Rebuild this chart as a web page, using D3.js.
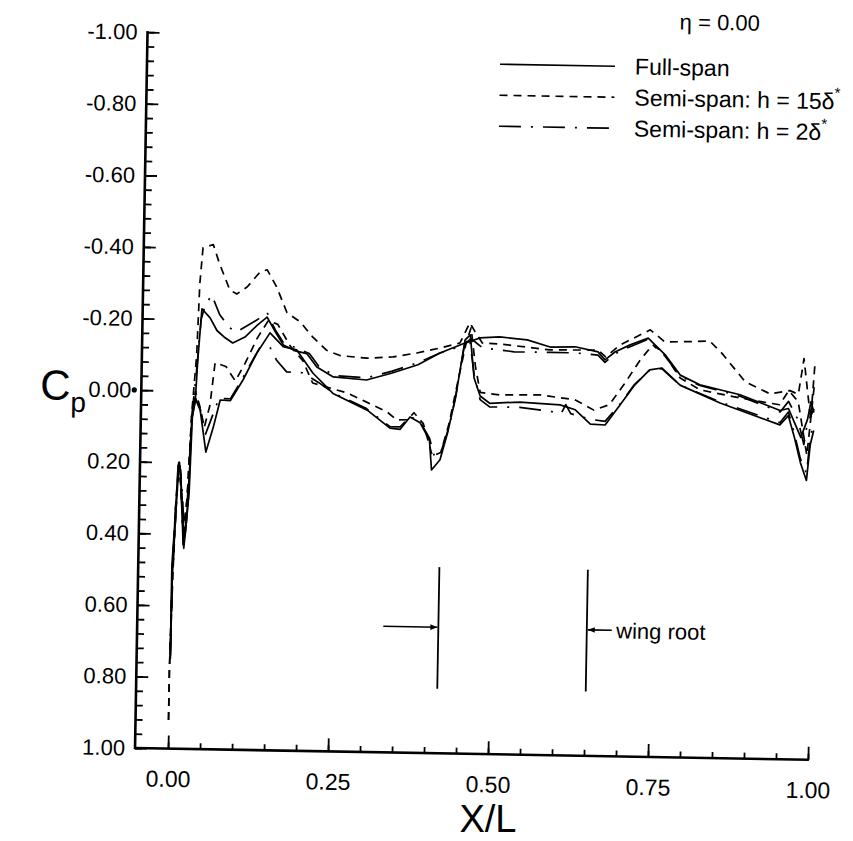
<!DOCTYPE html>
<html><head><meta charset="utf-8">
<script src="https://cdn.jsdelivr.net/npm/d3@7"></script>
<style>body{margin:0;background:#fff}svg{display:block}</style>
</head><body>
<svg id="chart" width="853" height="841"></svg>
<script>
// ---- data (X/L, Cp) ----
const xMajorTicks = [0, 0.25, 0.5, 0.75, 1.0];
const yMajorTicks = [-1.0, -0.8, -0.6, -0.4, -0.2, 0.0, 0.2, 0.4, 0.6, 0.8, 1.0];
const legendLabels = ["Full-span", "Semi-span: h = 15δ", "Semi-span: h = 2δ"];

const fullUpper = [[0.001,0.75],[0.001,0.49],[0.005,0.35],[0.008,0.21],[0.010,0.20],[0.013,0.25],[0.018,0.43],[0.022,0.36],[0.025,0.30],[0.028,0.08],[0.033,0.03],[0.036,-0.09],[0.041,-0.23],[0.054,-0.205],[0.065,-0.17],[0.078,-0.15],[0.090,-0.136],[0.109,-0.153],[0.128,-0.187],[0.143,-0.21],[0.156,-0.17],[0.169,-0.133],[0.188,-0.117],[0.206,-0.11],[0.222,-0.073],[0.248,-0.046],[0.30,-0.039],[0.34,-0.06],[0.38,-0.084],[0.414,-0.118],[0.453,-0.147],[0.476,-0.162],[0.507,-0.166],[0.55,-0.159],[0.586,-0.14],[0.625,-0.142],[0.661,-0.129],[0.672,-0.107],[0.688,-0.13],[0.711,-0.15],[0.739,-0.17],[0.766,-0.124],[0.79,-0.068],[0.821,-0.042],[0.884,-0.016],[0.947,0.026],[0.96,0.02],[0.97,0.06],[0.98,0.1],[0.99,0.05],[0.995,0.0],[1.0,0.03]];
const fullLower = [[0.001,0.75],[0.002,0.52],[0.006,0.33],[0.009,0.22],[0.011,0.21],[0.014,0.28],[0.019,0.44],[0.022,0.38],[0.026,0.28],[0.029,0.07],[0.033,0.02],[0.041,0.053],[0.051,0.17],[0.062,0.10],[0.072,0.024],[0.088,0.025],[0.107,-0.033],[0.128,-0.109],[0.148,-0.166],[0.169,-0.128],[0.19,-0.12],[0.216,-0.056],[0.248,0.0],[0.302,0.045],[0.338,0.094],[0.354,0.097],[0.369,0.062],[0.385,0.078],[0.40,0.126],[0.404,0.209],[0.417,0.18],[0.428,0.105],[0.439,0.012],[0.453,-0.156],[0.461,-0.17],[0.468,-0.05],[0.478,0.0],[0.493,0.02],[0.54,0.015],[0.603,0.021],[0.627,0.034],[0.651,0.073],[0.674,0.075],[0.697,0.018],[0.719,-0.038],[0.742,-0.081],[0.761,-0.087],[0.79,-0.04],[0.853,0.008],[0.947,0.066],[0.96,0.04],[0.97,0.1],[0.98,0.17],[0.99,0.22],[0.995,0.12],[1.0,0.08]];
const semi15Upper = [[0.0,0.92],[0.0,0.78],[0.002,0.5],[0.005,0.33],[0.009,0.21],[0.013,0.27],[0.018,0.40],[0.023,0.30],[0.028,0.06],[0.034,-0.1],[0.037,-0.3],[0.041,-0.40],[0.057,-0.41],[0.067,-0.358],[0.084,-0.284],[0.095,-0.273],[0.111,-0.293],[0.131,-0.336],[0.142,-0.342],[0.157,-0.295],[0.174,-0.223],[0.195,-0.198],[0.215,-0.156],[0.237,-0.12],[0.258,-0.106],[0.30,-0.10],[0.341,-0.105],[0.378,-0.117],[0.414,-0.132],[0.445,-0.147],[0.46,-0.204],[0.468,-0.18],[0.48,-0.148],[0.508,-0.146],[0.559,-0.137],[0.586,-0.132],[0.661,-0.134],[0.673,-0.115],[0.695,-0.149],[0.742,-0.193],[0.765,-0.16],[0.805,-0.162],[0.835,-0.165],[0.855,-0.13],[0.892,-0.052],[0.931,-0.02],[0.962,-0.03],[0.975,-0.02],[0.983,-0.12],[0.99,-0.02],[0.995,0.05],[1.0,-0.1]];
const semi15Lower = [[0.0,0.92],[0.0,0.78],[0.003,0.5],[0.006,0.32],[0.009,0.21],[0.013,0.26],[0.018,0.4],[0.023,0.3],[0.028,0.07],[0.033,0.0],[0.04,0.04],[0.048,0.10],[0.056,0.04],[0.063,-0.08],[0.08,-0.07],[0.095,-0.03],[0.11,-0.08],[0.128,-0.15],[0.145,-0.2],[0.16,-0.19],[0.18,-0.13],[0.2,-0.09],[0.216,-0.028],[0.27,-0.002],[0.30,0.022],[0.333,0.049],[0.348,0.071],[0.365,0.07],[0.375,0.05],[0.39,0.08],[0.405,0.17],[0.418,0.16],[0.43,0.08],[0.445,-0.06],[0.455,-0.15],[0.462,-0.19],[0.47,-0.08],[0.478,-0.01],[0.509,-0.004],[0.571,-0.006],[0.626,0.006],[0.656,0.034],[0.68,0.018],[0.702,-0.038],[0.727,-0.108],[0.746,-0.151],[0.762,-0.132],[0.79,-0.06],[0.821,-0.028],[0.884,-0.007],[0.946,0.01],[0.96,-0.03],[0.975,0.0],[0.985,0.1],[0.99,0.15],[0.995,0.05],[1.0,-0.05]];
const semi2Upper = [[0.001,0.74],[0.002,0.5],[0.005,0.34],[0.009,0.2],[0.012,0.24],[0.018,0.42],[0.023,0.33],[0.028,0.07],[0.034,-0.05],[0.04,-0.2],[0.046,-0.24],[0.056,-0.269],[0.069,-0.214],[0.085,-0.178],[0.096,-0.167],[0.127,-0.201],[0.143,-0.222],[0.156,-0.175],[0.169,-0.14],[0.19,-0.125],[0.21,-0.11],[0.225,-0.075],[0.25,-0.05],[0.30,-0.045],[0.34,-0.065],[0.38,-0.09],[0.414,-0.118],[0.45,-0.14],[0.462,-0.16],[0.48,-0.135],[0.53,-0.125],[0.586,-0.125],[0.625,-0.125],[0.661,-0.12],[0.672,-0.1],[0.688,-0.125],[0.711,-0.145],[0.737,-0.165],[0.766,-0.12],[0.79,-0.065],[0.821,-0.04],[0.884,-0.012],[0.947,0.03],[0.96,0.0],[0.975,0.05],[0.985,0.12],[0.99,0.06],[1.0,0.02]];
const semi2Lower = [[0.001,0.74],[0.002,0.52],[0.006,0.33],[0.009,0.22],[0.012,0.22],[0.016,0.3],[0.02,0.42],[0.024,0.33],[0.028,0.08],[0.033,0.02],[0.041,0.05],[0.05,0.12],[0.06,0.07],[0.07,0.02],[0.088,0.02],[0.107,-0.04],[0.132,-0.123],[0.148,-0.127],[0.159,-0.09],[0.175,-0.058],[0.2,-0.056],[0.225,-0.03],[0.25,0.0],[0.30,0.04],[0.338,0.09],[0.354,0.09],[0.369,0.06],[0.385,0.075],[0.40,0.12],[0.408,0.17],[0.418,0.16],[0.43,0.09],[0.44,0.0],[0.452,-0.14],[0.46,-0.16],[0.468,-0.06],[0.478,0.01],[0.493,0.03],[0.54,0.03],[0.59,0.04],[0.605,0.045],[0.612,0.02],[0.62,0.045],[0.651,0.06],[0.674,0.065],[0.697,0.015],[0.719,-0.04],[0.742,-0.08],[0.761,-0.085],[0.79,-0.04],[0.853,0.005],[0.947,0.06],[0.96,0.03],[0.97,0.09],[0.98,0.16],[0.99,0.2],[0.995,0.1],[1.0,0.06]];

// wing root markers (X/L) and annotation level (Cp)
const wingRootX = [0.419, 0.651];
const wingRootSpan = [0.48, 0.82];
const wingRootArrowCp = 0.648;
const wingRootArrowFrom = [0.333, 0.69];

// ---- layout ----
const svg = d3.select("#chart");
const g = svg.append("g").attr("transform", "rotate(1,135,750)");
const FONT = "'Liberation Sans', Arial, Helvetica, sans-serif";

const x = d3.scaleLinear().domain([0, 1]).range([168, 808]);
const y = d3.scaleLinear().domain([-1, 1]).range([32, 748]);
const axisLeftX = 135;

const series = [
  {label: legendLabels[0], dash: null, branches: [fullUpper, fullLower]},
  {label: legendLabels[1], dash: "8,6", branches: [semi15Upper, semi15Lower]},
  {label: legendLabels[2], dash: "22,10,2,10", branches: [semi2Upper, semi2Lower]}
];

const line = d3.line().x(d => x(d[0])).y(d => y(d[1]));

series.forEach(s => {
  s.branches.forEach(b => {
    g.append("path").attr("d", line(b)).attr("fill", "none")
      .attr("stroke", "#000").attr("stroke-width", 1.7)
      .attr("stroke-linejoin", "round")
      .attr("stroke-dasharray", s.dash);
  });
});

// y axis
const yMinor = d3.range(-1, 1.0001, 0.04).map(v => +v.toFixed(2));
const ya = g.append("g").attr("transform", `translate(${axisLeftX},0)`)
  .call(d3.axisLeft(y).tickValues(yMinor).tickSize(-7).tickFormat(""));
const ya2 = g.append("g").attr("transform", `translate(${axisLeftX},0)`)
  .call(d3.axisLeft(y).tickValues(yMajorTicks).tickSize(-12).tickPadding(10).tickFormat(d3.format(".2f")));
[ya, ya2].forEach(a => {
  a.select(".domain").remove();
  a.selectAll(".tick line").attr("stroke", "#000").attr("stroke-width", 1.8);
});
ya2.selectAll("text").attr("font-family", FONT).attr("font-size", 22).attr("fill", "#000")
  .text(d => d3.format(".2f")(d).replace("−", "-"));
g.append("line").attr("x1", axisLeftX).attr("x2", axisLeftX).attr("y1", y(-1) - 1).attr("y2", y(1) + 1)
  .attr("stroke", "#000").attr("stroke-width", 2.6);
g.append("circle").attr("cx", axisLeftX - 7).attr("cy", y(0)).attr("r", 2.6).attr("fill", "#000");

// x axis
const xMinor = d3.range(0, 1.0001, 0.05).map(v => +v.toFixed(2));
const xa = g.append("g").attr("transform", `translate(0,${y(1)})`)
  .call(d3.axisBottom(x).tickValues(xMinor).tickSize(-6).tickFormat(""));
const xa2 = g.append("g").attr("transform", `translate(0,${y(1)})`)
  .call(d3.axisBottom(x).tickValues(xMajorTicks).tickSize(-13).tickPadding(22).tickFormat(d3.format(".2f")));
[xa, xa2].forEach(a => {
  a.select(".domain").remove();
  a.selectAll(".tick line").attr("stroke", "#000").attr("stroke-width", 1.8);
});
xa2.selectAll("text").attr("font-family", FONT).attr("font-size", 23).attr("fill", "#000");
g.append("line").attr("x1", axisLeftX - 1).attr("x2", x(1) + 1).attr("y1", y(1)).attr("y2", y(1))
  .attr("stroke", "#000").attr("stroke-width", 2.6);

// axis titles
svg.append("text").attr("x", 488).attr("y", 832).attr("text-anchor", "middle")
  .attr("font-family", FONT).attr("font-size", 38).text("X/L");
const cp = g.append("text").attr("x", 34).attr("y", 401).attr("font-family", FONT).attr("font-size", 42);
cp.append("tspan").text("C");
cp.append("tspan").attr("font-size", 28).attr("dy", 12).text("p");

// eta label
g.append("text").attr("x", 707).attr("y", 20).attr("text-anchor", "middle")
  .attr("font-family", FONT).attr("font-size", 22).text("η = 0.00");

// legend
const legendY = [58, 89, 120];
series.forEach((s, i) => {
  g.append("line").attr("x1", 488).attr("x2", 603).attr("y1", legendY[i]).attr("y2", legendY[i])
    .attr("stroke", "#000").attr("stroke-width", 1.7).attr("stroke-dasharray", s.dash);
  const t = g.append("text").attr("x", 623).attr("y", legendY[i] + 8)
    .attr("font-family", FONT).attr("font-size", 23).text(s.label);
  if (i > 0) t.append("tspan").attr("font-size", 15).attr("dy", -11).text("*");
});

// wing root annotation
wingRootX.forEach(v => {
  g.append("line").attr("x1", x(v)).attr("x2", x(v)).attr("y1", y(wingRootSpan[0])).attr("y2", y(wingRootSpan[1]))
    .attr("stroke", "#000").attr("stroke-width", 1.8);
});
svg.append("defs").append("marker").attr("id", "arr").attr("viewBox", "0 0 10 10").attr("refX", 10).attr("refY", 5)
  .attr("markerWidth", 9).attr("markerHeight", 7).attr("markerUnits", "userSpaceOnUse").attr("orient", "auto")
  .append("path").attr("d", "M0,1 L10,5 L0,9 Z").attr("fill", "#000");
wingRootX.forEach((v, i) => {
  const dir = i === 0 ? -1 : 1;
  g.append("line").attr("x1", x(wingRootArrowFrom[i])).attr("x2", x(v) + dir).attr("y1", y(wingRootArrowCp)).attr("y2", y(wingRootArrowCp))
    .attr("stroke", "#000").attr("stroke-width", 1.6).attr("marker-end", "url(#arr)");
});
g.append("text").attr("x", x(0.697)).attr("y", y(wingRootArrowCp) + 8)
  .attr("font-family", FONT).attr("font-size", 22).text("wing root");
</script>
</body></html>
